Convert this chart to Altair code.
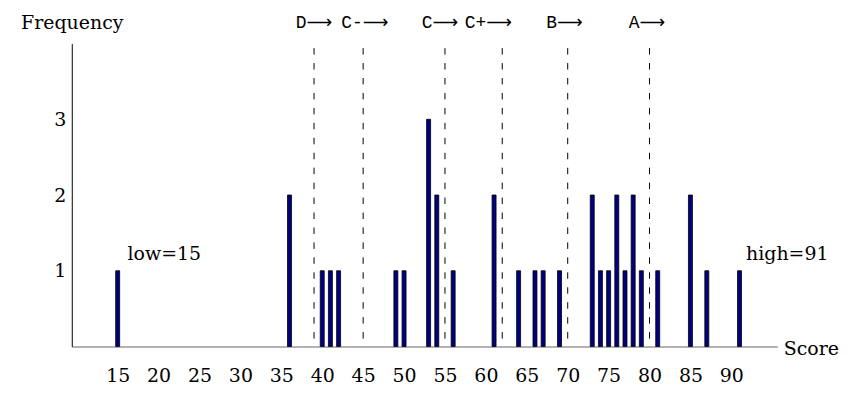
import altair as alt
import pandas as pd

# Histogram of scores
scores = [15, 36, 40, 41, 42, 49, 50, 53, 54, 56, 61, 64, 66, 67, 69,
          73, 74, 75, 76, 77, 78, 79, 81, 85, 87, 91]
counts = [1, 2, 1, 1, 1, 1, 1, 3, 2, 1, 2, 1, 1, 1, 1,
          2, 1, 1, 2, 1, 2, 1, 1, 2, 1, 1]

# Grade cutoffs (dashed lines) and their labels
cutoffs = [39, 45, 55, 62, 70, 80]
grade_labels = ["D⟶", "C-⟶", "C⟶", "C+⟶", "B⟶", "A⟶"]
grade_label_pos = [39.0, 45.2, 54.4, 60.3, 69.6, 79.7]
cutoff_top = 3.94

# Axis ticks
x_ticks = list(range(15, 95, 5))
y_ticks = [1, 2, 3]

# Annotations
notes = ["low=15", "high=91"]
note_x = [16.2, 91.8]
note_y = [1.22, 1.22]

SERIF = "DejaVu Serif"
MONO = "Liberation Mono, DejaVu Sans"

bars_df = pd.DataFrame({"score": scores, "count": counts})
cut_df = pd.DataFrame({"cut": cutoffs, "top": [cutoff_top] * len(cutoffs)})
lab_df = pd.DataFrame({"pos": grade_label_pos, "label": grade_labels})
note_df = pd.DataFrame({"x": note_x, "y": note_y, "text": notes})

xscale = alt.Scale(domain=[10, 95], nice=False, zero=False)
yscale = alt.Scale(domain=[0, 4], nice=False)

bars = alt.Chart(bars_df).mark_bar(
    size=4, color="#000080", stroke="black", strokeWidth=0.8
).encode(
    x=alt.X("score:Q", scale=xscale, axis=alt.Axis(
        values=x_ticks, ticks=False, grid=False, domainColor="#666666",
        domainWidth=1.2, labelPadding=20, labelFlush=False, format="d",
        title="Score", titleAngle=0, titleAlign="left", titleBaseline="middle",
        titleX=714, titleY=2,
    )),
    y=alt.Y("count:Q", scale=yscale, axis=alt.Axis(
        values=y_ticks, ticks=False, grid=False, domainColor="black",
        labelPadding=6, labelFlush=False, format="d",
        title="Frequency", titleAngle=0, titleAlign="center", titleBaseline="middle",
        titleX=0, titleY=-21,
    )),
)

rules = alt.Chart(cut_df).mark_rule(
    color="black", strokeWidth=1, strokeDash=[6.5, 8.5]
).encode(
    x=alt.X("cut:Q", scale=xscale),
    y=alt.Y("top:Q", scale=yscale),
    y2=alt.datum(0),
)

grade_text = alt.Chart(lab_df).mark_text(
    font=MONO, fontSize=18, baseline="middle", align="center", color="black"
).encode(
    x=alt.X("pos:Q", scale=xscale),
    y=alt.value(-21),
    text="label:N",
)

note_text = alt.Chart(note_df).mark_text(
    font=SERIF, fontSize=19, baseline="middle", align="left", color="black"
).encode(
    x=alt.X("x:Q", scale=xscale),
    y=alt.Y("y:Q", scale=yscale),
    text="text:N",
)

chart = alt.layer(rules, bars, grade_text, note_text).properties(
    width=708, height=304,
    padding={"left": 64, "top": 35, "right": 70, "bottom": 50},
    autosize="none",
).configure_view(stroke=None).configure_axis(
    labelFont=SERIF, labelFontSize=19, labelColor="black",
    titleFont=SERIF, titleFontSize=19, titleFontWeight="normal", titleColor="black",
)

chart.save("out.html", embed_options={"renderer": "svg", "actions": False})
